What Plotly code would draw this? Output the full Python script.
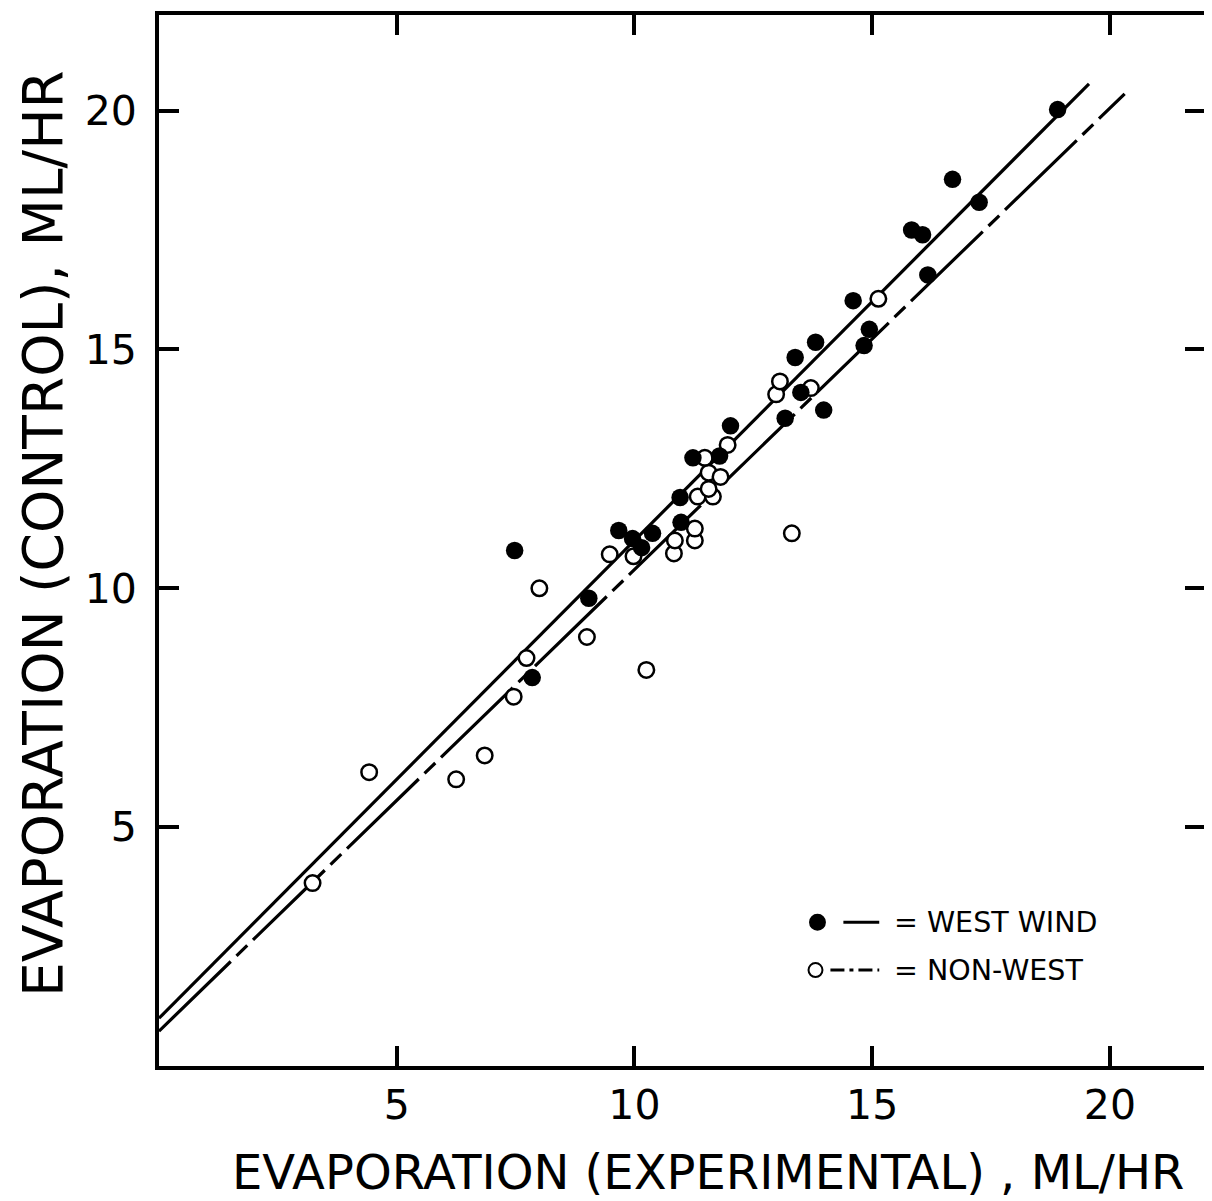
import plotly.graph_objects as go

# ---- data ----
west_x = [18.9, 16.69, 17.25, 15.83, 16.06, 16.17, 14.6, 14.94, 14.83, 13.81, 13.38, 13.5,
          13.17, 13.98, 12.02, 11.79, 11.23, 10.96, 10.98, 10.38, 9.67, 9.96, 10.15, 7.48,
          9.04, 7.85]
west_y = [20.02, 18.56, 18.08, 17.5, 17.4, 16.56, 16.02, 15.42, 15.08, 15.15, 14.83, 14.1,
          13.56, 13.73, 13.4, 12.77, 12.73, 11.9, 11.38, 11.15, 11.21, 11.04, 10.85, 10.79,
          9.79, 8.13]

nonwest_x = [3.23, 4.42, 6.25, 6.85, 7.46, 7.73, 8.0, 9.0, 10.25, 9.48, 9.98, 10.83, 10.85,
             11.27, 11.27, 13.31, 11.33, 11.65, 11.56, 11.56, 11.81, 11.48, 11.96, 12.98,
             13.06, 13.71, 15.13]
nonwest_y = [3.83, 6.15, 6.0, 6.5, 7.73, 8.54, 10.0, 8.98, 8.29, 10.71, 10.67, 10.73, 11.0,
             11.0, 11.25, 11.15, 11.92, 11.92, 12.08, 12.42, 12.33, 12.73, 13.0, 14.06,
             14.33, 14.19, 16.06]

west_fit_x = [0.0, 19.56]
west_fit_y = [1.0, 20.56]
nonwest_fit_x = [0.0, 20.31]
nonwest_fit_y = [0.73, 20.35]

tick_vals = [5, 10, 15, 20]
tick_text = ["5", "10", "15", "20"]

x_title = "EVAPORATION (EXPERIMENTAL) , ML/HR"
y_title = "EVAPORATION (CONTROL), ML/HR"
legend_labels = ["= WEST WIND", "= NON-WEST"]

FONT = "DejaVu Sans"
OFF = 8  # default page body margin
W, H = 1204, 1193
ML, MR, MT, MB = 151, 3, 6, 135
PW, PH = W - ML - MR, H - MT - MB

fig = go.Figure()

fig.add_trace(go.Scatter(x=west_fit_x, y=west_fit_y, mode="lines",
                         line=dict(color="black", width=3.2), showlegend=False))
fig.add_trace(go.Scatter(x=nonwest_fit_x, y=nonwest_fit_y, mode="lines",
                         line=dict(color="black", width=3.2, dash="100px,8px,15px,8px"),
                         showlegend=False))
fig.add_trace(go.Scatter(x=nonwest_x, y=nonwest_y, mode="markers",
                         marker=dict(symbol="circle", size=15.5, color="white",
                                     line=dict(color="black", width=2.5)),
                         showlegend=False))
fig.add_trace(go.Scatter(x=west_x, y=west_y, mode="markers",
                         marker=dict(symbol="circle", size=17.5, color="black",
                                     line=dict(color="black", width=0)),
                         showlegend=False))

axis_common = dict(
    range=[0, 22], showgrid=False, zeroline=False, showline=True, linecolor="black",
    linewidth=4, mirror="allticks", ticks="inside", ticklen=20, tickwidth=4,
    tickcolor="black", tickvals=tick_vals, ticktext=tick_text,
    tickfont=dict(family=FONT, size=41, color="black"),
)

fig.update_layout(
    width=W, height=H,
    margin=dict(l=ML, r=MR, t=MT, b=MB, pad=0),
    paper_bgcolor="white", plot_bgcolor="white",
    xaxis=dict(**axis_common),
    yaxis=dict(**axis_common),
)
fig.update_xaxes(ticklabelstandoff=0)
fig.update_yaxes(ticklabelstandoff=10)


def px_to_paper(px, py):
    # page pixel -> paper coords
    fx, fy = px - OFF, py - OFF
    return (fx - ML) / PW, (H - MB - fy) / PH


annotations = []
ax, ay = px_to_paper(710, 1172)
annotations.append(dict(text=x_title, xref="paper", yref="paper", x=ax, y=ay,
                        xanchor="center", yanchor="middle", showarrow=False,
                        font=dict(family=FONT, size=48, color="black")))
ax, ay = px_to_paper(42, 533)
annotations.append(dict(text=y_title, xref="paper", yref="paper", x=ax, y=ay,
                        xanchor="center", yanchor="middle", showarrow=False, textangle=-90,
                        font=dict(family=FONT, size=55, color="black")))

# legend (drawn manually)
shapes = []
rows = [922, 970]
for i, row in enumerate(rows):
    cx, cy = px_to_paper(820 if i == 0 else 818, row)
    r = 8.5 if i == 0 else 7
    shapes.append(dict(type="circle", xref="paper", yref="paper",
                       x0=cx - r / PW, x1=cx + r / PW, y0=cy - r / PH, y1=cy + r / PH,
                       fillcolor="black" if i == 0 else "white",
                       line=dict(color="black", width=0 if i == 0 else 2)))
    x0, y0 = px_to_paper(846 if i == 0 else 833, row)
    x1, _ = px_to_paper(882, row)
    shapes.append(dict(type="line", xref="paper", yref="paper", x0=x0, x1=x1, y0=y0, y1=y0,
                       line=dict(color="black", width=3,
                                 dash="solid" if i == 0 else "14px,5px,4px,5px")))
    tx, ty = px_to_paper(895, row)
    annotations.append(dict(text=legend_labels[i], xref="paper", yref="paper", x=tx, y=ty,
                            xanchor="left", yanchor="middle", showarrow=False,
                            font=dict(family=FONT, size=28.5, color="black")))

fig.update_layout(annotations=annotations, shapes=shapes)

fig.write_html("out.html")
